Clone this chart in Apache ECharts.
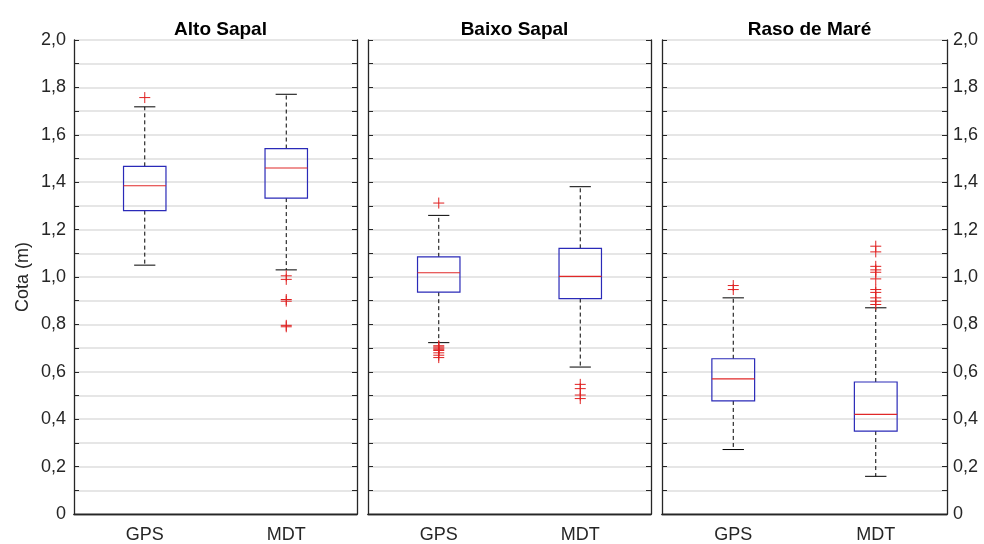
<!DOCTYPE html>
<html>
<head>
<meta charset="utf-8">
<script src="https://cdn.jsdelivr.net/npm/echarts@6/dist/echarts.min.js"></script>
<style>
  html, body { margin: 0; padding: 0; background: #fff; }
  #chart { width: 984px; height: 544px; }
</style>
</head>
<body>
<div id="chart"></div>
<script>
// categories and panels
const categories = ['GPS', 'MDT'];
const panelTitles = ['Alto Sapal', 'Baixo Sapal', 'Raso de Maré'];
const yTicks = [0, 0.2, 0.4, 0.6, 0.8, 1.0, 1.2, 1.4, 1.6, 1.8, 2.0];

// box stats per category: [min whisker, Q1, median, Q3, max whisker]
const boxAltoSapal = [[1.05, 1.28, 1.385, 1.467, 1.718], [1.03, 1.333, 1.46, 1.542, 1.771]];
const boxBaixoSapal = [[0.723, 0.936, 1.018, 1.085, 1.26], [0.62, 0.909, 1.003, 1.121, 1.381]];
const boxRasoMare = [[0.272, 0.477, 0.57, 0.655, 0.912], [0.159, 0.35, 0.42, 0.557, 0.87]];

// outliers per category
const outAltoSapal = [[1.757], [1.005, 0.99, 0.905, 0.898, 0.796, 0.79]];
const outBaixoSapal = [[1.312, 0.71, 0.705, 0.70, 0.695, 0.69, 0.68, 0.67, 0.66], [0.547, 0.529, 0.502, 0.487]];
const outRasoMare = [[0.964, 0.947], [1.13, 1.106, 1.045, 1.03, 1.02, 0.992, 0.947, 0.935, 0.912, 0.898, 0.884]];

const boxes = [boxAltoSapal, boxBaixoSapal, boxRasoMare];
const outliers = [outAltoSapal, outBaixoSapal, outRasoMare];

const font = 'Liberation Sans, Arial, sans-serif';
const axisColor = '#262626';
const grids = [
    { left: 74, width: 283, top: 40, bottom: 29 },
    { left: 368, width: 283, top: 40, bottom: 29 },
    { left: 662, width: 285, top: 40, bottom: 29 }
];

function fmt(v) {
    const k = Math.round(v * 10);
    if (k % 2 !== 0) return '';
    if (k === 0) return '0';
    return (k / 10).toFixed(1).replace('.', ',');
}

function renderBox(params, api) {
    const i = api.value(0);
    const x = api.coord([i, 0])[0];
    const bw = api.size([1, 0])[0] * 0.3;
    const cw = bw / 2;
    const y = [1, 2, 3, 4, 5].map(k => api.coord([i, api.value(k)])[1]);
    const [yMin, yQ1, yMed, yQ3, yMax] = y;
    const dash = { stroke: '#000', lineWidth: 1, lineDash: [4, 3] };
    const solid = { stroke: '#000', lineWidth: 1 };
    return {
        type: 'group',
        children: [
            { type: 'line', shape: { x1: x, y1: yQ3, x2: x, y2: yMax }, style: dash },
            { type: 'line', shape: { x1: x, y1: yQ1, x2: x, y2: yMin }, style: dash },
            { type: 'line', shape: { x1: x - cw / 2, y1: yMax, x2: x + cw / 2, y2: yMax }, style: solid },
            { type: 'line', shape: { x1: x - cw / 2, y1: yMin, x2: x + cw / 2, y2: yMin }, style: solid },
            { type: 'rect', shape: { x: x - bw / 2, y: yQ3, width: bw, height: yQ1 - yQ3 },
              style: { fill: 'none', stroke: '#2a2ab8', lineWidth: 1.2 } },
            { type: 'line', shape: { x1: x - bw / 2, y1: yMed, x2: x + bw / 2, y2: yMed },
              style: { stroke: '#e02828', lineWidth: 1.2 } }
        ]
    };
}

function renderOutlier(params, api) {
    const p = api.coord([api.value(0), api.value(1)]);
    const s = 5.5;
    const st = { stroke: '#e02020', lineWidth: 1 };
    return {
        type: 'group',
        children: [
            { type: 'line', shape: { x1: p[0] - s, y1: p[1], x2: p[0] + s, y2: p[1] }, style: st },
            { type: 'line', shape: { x1: p[0], y1: p[1] - s, x2: p[0], y2: p[1] + s }, style: st }
        ]
    };
}

const xAxis = [], yAxis = [], series = [], title = [];
grids.forEach((g, i) => {
    title.push({
        text: panelTitles[i],
        left: g.left + g.width / 2,
        top: 15,
        textAlign: 'center',
        textStyle: { fontFamily: font, fontSize: 19, fontWeight: 'bold', color: '#000' }
    });
    xAxis.push({
        type: 'category', gridIndex: i, data: categories, position: 'bottom',
        axisLine: { lineStyle: { color: axisColor, width: 1.3 } },
        axisTick: { inside: true, alignWithLabel: true, length: 5, lineStyle: { color: axisColor } },
        axisLabel: { fontFamily: font, fontSize: 18, color: axisColor, margin: 12 },
        splitLine: { show: false }
    });
    xAxis.push({
        type: 'category', gridIndex: i, data: categories, position: 'top',
        axisLine: { lineStyle: { color: axisColor, width: 1.3 } },
        axisTick: { inside: true, alignWithLabel: true, length: 5, lineStyle: { color: axisColor } },
        axisLabel: { show: false },
        splitLine: { show: false }
    });
    yAxis.push({
        type: 'value', gridIndex: i, min: 0, max: 2, interval: 0.1, position: 'left',
        name: i === 0 ? 'Cota (m)' : '',
        nameLocation: 'middle', nameGap: 42, nameRotate: 90,
        nameTextStyle: { fontFamily: font, fontSize: 18, color: axisColor },
        axisLine: { show: true, lineStyle: { color: axisColor, width: 1.3 } },
        axisTick: { show: true, inside: true, length: 5, lineStyle: { color: axisColor } },
        axisLabel: { show: i === 0, formatter: fmt, fontFamily: font, fontSize: 18, color: axisColor, margin: 8 },
        splitLine: { show: true, lineStyle: { color: '#dedede', width: 1.5 } }
    });
    yAxis.push({
        type: 'value', gridIndex: i, min: 0, max: 2, interval: 0.1, position: 'right',
        axisLine: { show: true, lineStyle: { color: axisColor, width: 1.3 } },
        axisTick: { show: true, inside: true, length: 5, lineStyle: { color: axisColor } },
        axisLabel: { show: i === 2, formatter: fmt, fontFamily: font, fontSize: 18, color: axisColor, margin: 6 },
        splitLine: { show: false }
    });
    series.push({
        type: 'custom', xAxisIndex: i * 2, yAxisIndex: i * 2,
        encode: { x: 0, y: [1, 2, 3, 4, 5] },
        renderItem: renderBox,
        data: boxes[i].map((b, k) => [k].concat(b)),
        z: 3
    });
    const outData = [];
    outliers[i].forEach((list, k) => list.forEach(v => outData.push([k, v])));
    series.push({
        type: 'custom', xAxisIndex: i * 2, yAxisIndex: i * 2,
        encode: { x: 0, y: 1 },
        renderItem: renderOutlier,
        data: outData,
        z: 4
    });
});

const chart = echarts.init(document.getElementById('chart'));
chart.setOption({
    backgroundColor: '#fff',
    animation: false,
    title: title,
    grid: grids,
    xAxis: xAxis,
    yAxis: yAxis,
    series: series
});
</script>
</body>
</html>
